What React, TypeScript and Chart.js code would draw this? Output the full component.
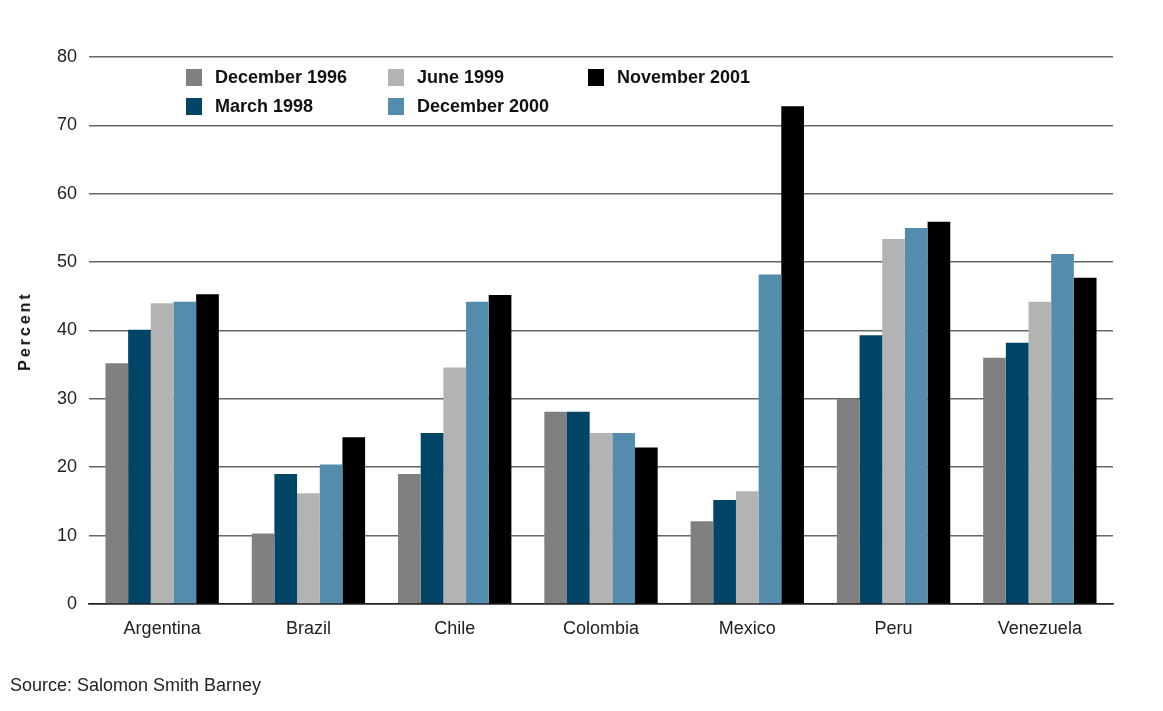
import React, { useEffect, useRef } from "react";
import { Chart, registerables } from "chart.js";

Chart.register(...registerables);

const categories = ["Argentina", "Brazil", "Chile", "Colombia", "Mexico", "Peru", "Venezuela"];
const dec1996 = [35.2, 10.3, 19.0, 28.1, 12.1, 30.0, 36.0];
const mar1998 = [40.1, 19.0, 25.0, 28.1, 15.2, 39.3, 38.2];
const jun1999 = [44.0, 16.2, 34.6, 25.0, 16.5, 53.4, 44.2];
const dec2000 = [44.2, 20.4, 44.2, 25.0, 48.2, 55.0, 51.2];
const nov2001 = [45.3, 24.4, 45.2, 22.9, 72.8, 55.9, 47.7];

const seriesNames = ["December 1996", "March 1998", "June 1999", "December 2000", "November 2001"];
const seriesColors = ["#808080", "#004466", "#b3b3b3", "#548cae", "#000000"];
const yTicks = [0, 10, 20, 30, 40, 50, 60, 70, 80];

const FONT = "'Liberation Sans', Arial, sans-serif";

// legend layout: [seriesIndex, left, centerY]
const legendItems: [number, number, number][] = [
  [0, 186, 77],
  [1, 186, 106],
  [2, 388, 77],
  [3, 388, 106],
  [4, 588, 77],
];

export default function App() {
  const canvasRef = useRef<HTMLCanvasElement | null>(null);

  useEffect(() => {
    const canvas = canvasRef.current;
    if (!canvas) return;
    const seriesData = [dec1996, mar1998, jun1999, dec2000, nov2001];
    const chart = new Chart(canvas, {
      type: "bar",
      data: {
        labels: categories,
        datasets: seriesData.map((d, i) => ({
          label: seriesNames[i],
          data: d,
          backgroundColor: seriesColors[i],
          borderWidth: 0,
          barPercentage: 1,
          categoryPercentage: 0.775,
        })),
      },
      options: {
        responsive: false,
        animation: false,
        devicePixelRatio: 1,
        layout: { padding: { top: 57, left: 0, right: 50, bottom: 0 } },
        plugins: {
          legend: { display: false },
          tooltip: { enabled: false },
          title: { display: false },
        },
        scales: {
          x: {
            grid: { display: false, drawTicks: false },
            border: { display: true, color: "#222", width: 1.5 },
            ticks: {
              padding: 14,
              color: "#222",
              font: { family: FONT, size: 18 },
            },
            afterFit: (s: any) => {
              s.height = 107;
            },
          },
          y: {
            min: 0,
            max: 80,
            afterBuildTicks: (s: any) => {
              s.ticks = yTicks.map((v) => ({ value: v }));
            },
            grid: {
              drawTicks: false,
              color: (ctx: any) => (ctx.tick && ctx.tick.value === 0 ? "#222" : "#666"),
              lineWidth: 1.6,
            },
            border: { display: false },
            ticks: {
              padding: 12,
              color: "#222",
              font: { family: FONT, size: 18 },
            },
            afterFit: (s: any) => {
              s.width = 89;
            },
          },
        },
      },
    });
    return () => chart.destroy();
  }, []);

  return (
    <div
      style={{
        position: "fixed",
        left: 0,
        top: 0,
        width: 1163,
        height: 711,
        background: "#fff",
        fontFamily: FONT,
      }}
    >
      <canvas ref={canvasRef} width={1163} height={711} style={{ display: "block", width: 1163, height: 711 }} />
      {legendItems.map(([si, left, cy]) => (
        <div
          key={si}
          style={{
            position: "absolute",
            left,
            top: cy - 10,
            height: 20,
            display: "flex",
            alignItems: "center",
            whiteSpace: "nowrap",
          }}
        >
          <span
            style={{
              display: "inline-block",
              width: 16,
              height: 17,
              background: seriesColors[si],
              marginRight: 13,
            }}
          />
          <span style={{ fontWeight: "bold", fontSize: 18, color: "#111" }}>{seriesNames[si]}</span>
        </div>
      ))}
      <div
        style={{
          position: "absolute",
          left: 25,
          top: 331,
          transform: "translate(-50%, -50%) rotate(-90deg)",
          fontWeight: "bold",
          fontSize: 16,
          letterSpacing: 3,
          color: "#111",
          whiteSpace: "nowrap",
        }}
      >
        Percent
      </div>
      <div
        style={{
          position: "absolute",
          left: 10,
          top: 675,
          fontSize: 18,
          color: "#222",
          whiteSpace: "nowrap",
        }}
      >
        Source: Salomon Smith Barney
      </div>
    </div>
  );
}
